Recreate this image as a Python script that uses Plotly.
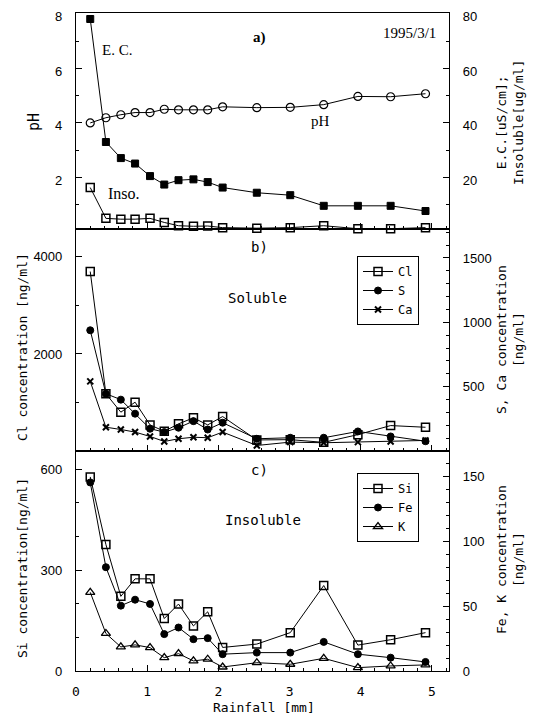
import plotly.graph_objects as go

# ---------------- data ----------------
rain = [0.2, 0.42, 0.63, 0.83, 1.04, 1.24, 1.44, 1.65, 1.85, 2.06, 2.54, 3.01, 3.48, 3.96, 4.42, 4.91]

ph = [4.0, 4.19, 4.30, 4.38, 4.38, 4.50, 4.48, 4.48, 4.48, 4.59, 4.56, 4.57, 4.67, 4.97, 4.96, 5.07]
ec = [78.1, 33.0, 27.1, 25.1, 20.5, 17.4, 19.0, 19.3, 18.3, 16.3, 14.4, 13.5, 9.6, 9.6, 9.6, 7.7]
inso = [16.3, 5.0, 4.7, 4.7, 5.0, 3.5, 2.3, 2.1, 2.2, 1.6, 1.4, 1.6, 2.3, 1.2, 1.2, 1.6]

cl = [3698, 1180, 800, 1006, 538, 406, 559, 683, 538, 710, 228, 234, 178, 337, 524, 489]
s = [938, 445, 399, 290, 173, 147, 181, 232, 167, 220, 95, 103, 103, 152, 113, 76]
ca = [541, 185, 167, 147, 113, 74, 95, 107, 103, 147, 43, 69, 64, 69, 74, 82]

si = [577, 376, 222, 274, 274, 156, 199, 134, 176, 70, 80, 114, 254, 77, 93, 114]
fe = [145.7, 80.2, 50.5, 55.1, 51.8, 28.5, 33.6, 24.6, 25.4, 13.0, 14.2, 14.2, 22.5, 13.0, 10.3, 7.0]
k = [60.8, 29.0, 18.6, 20.2, 18.1, 10.3, 13.4, 7.8, 9.1, 3.1, 6.4, 5.2, 9.8, 2.6, 3.9, 4.7]

x_ticks = [0, 1, 2, 3, 4, 5]

# ---------------- geometry (page has an 8px body margin) ----------------
OFF = 8
W, H = 542 - OFF, 720 - OFF
PL, PR, PT, PB = 76, 449, 13, 671          # plot area in page pixels
ML, MT = PL - OFF, PT - OFF
MR, MB = W - (PR - OFF), H - (PB - OFF)
PW, PH_ = PR - PL, PB - PT

def px_x(px):
    return (px - PL) / PW

def px_y(py):
    return 1 - (py - PT) / PH_

MONO = "DejaVu Sans Mono"
SERIF = "Liberation Serif"
SANS = "Liberation Sans"

dom_c = [0, px_y(451)]
dom_b = [px_y(451), px_y(229)]
dom_a = [px_y(229), 1]

def line_trace(y, symbol, xa, ya, name=None, legend=None, size=7, lw=1.8):
    return go.Scatter(
        x=rain, y=y, mode="lines+markers", xaxis=xa, yaxis=ya,
        name=name or "", showlegend=legend is not None,
        legend=legend or "legend",
        line=dict(color="black", width=1),
        marker=dict(symbol=symbol, size=size, color="black",
                    line=dict(color="black", width=lw)),
        cliponaxis=False,
    )

fig = go.Figure()
# panel a
fig.add_trace(line_trace(ph, "circle-open", "x3", "y5", size=8, lw=1.2))
fig.add_trace(line_trace(ec, "square", "x3", "y6", size=7, lw=1))
fig.add_trace(line_trace(inso, "square-open", "x3", "y6", size=8, lw=1.5))
# panel b
fig.add_trace(line_trace(cl, "square-open", "x2", "y3", name="Cl", legend="legend", size=8, lw=1.5))
fig.add_trace(line_trace(s, "circle", "x2", "y4", name="S", legend="legend", size=7, lw=1))
fig.add_trace(line_trace(ca, "x-thin", "x2", "y4", name="Ca", legend="legend", size=6, lw=2))
# panel c
fig.add_trace(line_trace(si, "square-open", "x", "y", name="Si", legend="legend2", size=8, lw=1.5))
fig.add_trace(line_trace(fe, "circle", "x", "y2", name="Fe", legend="legend2", size=7, lw=1))
fig.add_trace(line_trace(k, "triangle-up-open", "x", "y2", name="K", legend="legend2", size=8, lw=1.3))

tickfont = dict(family=SANS, size=13, color="black")

def xax(anchor, labels):
    return dict(
        range=[0, 5.24], anchor=anchor, showline=True, linecolor="black", linewidth=1.2,
        mirror=True, ticks="inside", ticklen=6, tickcolor="black",
        tickmode="array", tickvals=x_ticks, ticktext=[str(v) for v in x_ticks],
        showticklabels=labels, showgrid=False, zeroline=False, automargin=False,
        ticklabelstandoff=8,
        tickfont=dict(family=MONO, size=13, color="black"),
        minor=dict(tickmode="linear", tick0=0, dtick=0.2, ticks="inside", ticklen=3,
                   tickcolor="black", showgrid=False),
    )

def yax(rng, domain, tickvals, minor_dtick, side="left", overlaying=None, anchor="x", shift=0):
    d = dict(
        range=rng, domain=domain, side=side, anchor=anchor,
        showline=True, linecolor="black", linewidth=1.2,
        ticks="inside", ticklen=6, tickcolor="black",
        tickmode="array", tickvals=tickvals, ticktext=[str(v) for v in tickvals],
        showgrid=False, zeroline=False, tickfont=tickfont, automargin=False,
        ticklabelstandoff=10, ticklabeloverflow="allow", ticklabelshift=shift,
        minor=dict(tickmode="linear", tick0=0, dtick=minor_dtick, ticks="inside", ticklen=3,
                   tickcolor="black", showgrid=False),
    )
    if overlaying:
        d["overlaying"] = overlaying
    return d

legend_style = dict(xanchor="left", yanchor="top",
                    bordercolor="black", borderwidth=1, bgcolor="white",
                    font=dict(family=MONO, size=12, color="black"),
                    itemwidth=30, tracegroupgap=0)

fig.update_layout(
    width=W, height=H,
    margin=dict(l=ML, r=MR, t=MT, b=MB, pad=0, autoexpand=False),
    paper_bgcolor="white", plot_bgcolor="white",
    xaxis=xax("y", True),
    xaxis2=xax("y3", False) | dict(matches="x"),
    xaxis3=xax("y5", False) | dict(matches="x"),
    # panel c
    yaxis=yax([0, 654], dom_c, [0, 300, 600], 100),
    yaxis2=yax([0, 170], dom_c, [0, 50, 100, 150], 10, side="right", overlaying="y"),
    # panel b
    yaxis3=yax([0, 4575], dom_b, [2000, 4000], 1000, anchor="x2"),
    yaxis4=yax([0, 1725], dom_b, [500, 1000, 1500], 100, side="right", overlaying="y3", anchor="x2"),
    # panel a
    yaxis5=yax([0.11, 8.03], dom_a, [2, 4, 6, 8], 1, anchor="x3", shift=3),
    yaxis6=yax([1.1, 80.3], dom_a, [20, 40, 60, 80], 10, side="right", overlaying="y5", anchor="x3", shift=3),
    legend=dict(x=px_x(357), y=px_y(256), **legend_style),
    legend2=dict(x=px_x(357), y=px_y(473), **legend_style),
)

def ann(text, px, py, font, size, angle=0, bold=False, xanchor="center"):
    if bold:
        text = "<b>" + text + "</b>"
    fig.add_annotation(
        text=text, x=px_x(px), y=px_y(py), xref="paper", yref="paper",
        showarrow=False, xanchor=xanchor, yanchor="middle", textangle=angle,
        font=dict(family=font, size=size, color="black"),
    )

# in-panel labels
ann("a)", 259, 37, SERIF, 15, bold=True)
ann("1995/3/1", 409, 33, SERIF, 15)
ann("E. C.", 117, 50, SERIF, 15)
ann("pH", 320, 121, SERIF, 15)
ann("Inso.", 124, 193, SERIF, 16)
ann("b)", 259, 247, MONO, 14)
ann("Soluble", 257, 298, MONO, 14)
ann("c)", 259, 470, MONO, 14)
ann("Insoluble", 263, 520, MONO, 14)

# axis titles
ann("pH", 34, 122, MONO, 15, angle=-90)
ann("Cl concentration [ng/ml]", 22, 347, MONO, 13, angle=-90)
ann("Si concentration[ng/ml]", 22, 568, MONO, 13, angle=-90)
ann("E.C.[uS/cm];<br>Insoluble[ug/ml]", 510, 123, MONO, 13, angle=-90)
ann("S, Ca concentration<br>[ng/ml]", 510, 340, MONO, 13, angle=-90)
ann("Fe, K concentration<br>[ng/ml]", 510, 560, MONO, 13, angle=-90)
ann("Rainfall [mm]", 264, 707, MONO, 13)

fig.write_html("out.html")
